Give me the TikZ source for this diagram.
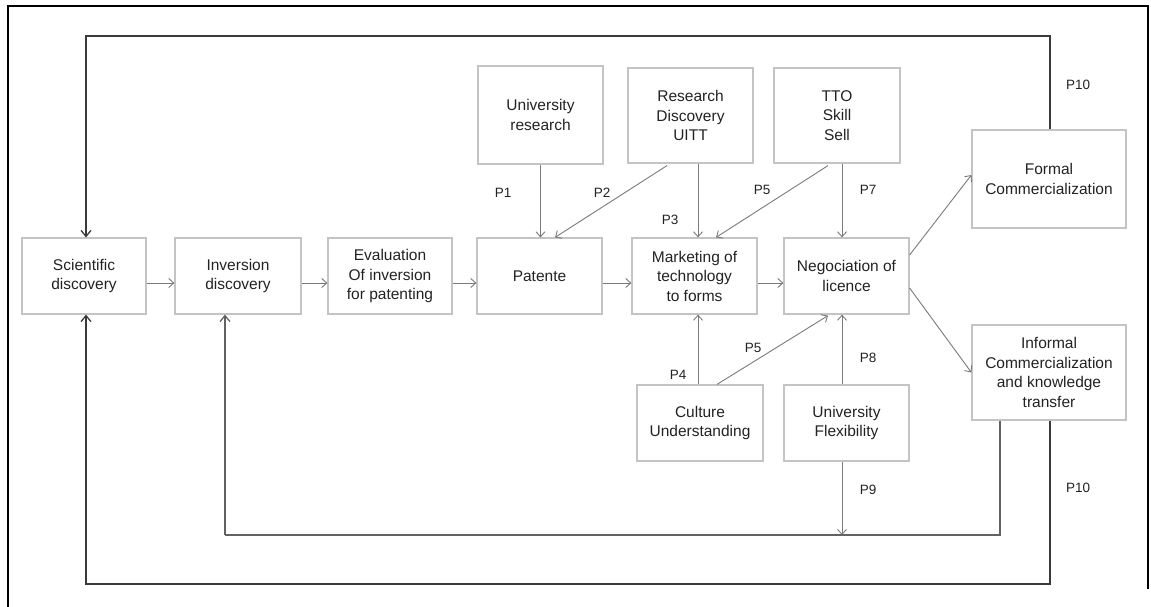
\documentclass[tikz,border=0pt]{standalone}
\usepackage{fontspec}
\setmainfont{Liberation Sans}
\usetikzlibrary{arrows.meta}
\definecolor{boxline}{HTML}{C4C4C4}
\definecolor{arrline}{HTML}{7A7A7A}
\definecolor{loopline}{HTML}{3A3A3A}
\definecolor{txt}{HTML}{222222}
\tikzset{
  box/.style={draw=boxline, line width=1.2pt, rectangle, inner sep=0pt,
    align=center, text=txt, font=\fontsize{15.5}{19.5}\selectfont},
  arr/.style={draw=arrline, line width=0.9pt, -{Straight Barb[length=5pt,width=9pt]}},
  loop/.style={draw=loopline, line width=1.3pt},
  looparr/.style={loop, -{Straight Barb[length=6pt,width=10pt]}},
  plabel/.style={text=txt, font=\fontsize{13.5}{15}\selectfont, inner sep=0pt}
}
\begin{document}
\begin{tikzpicture}[x=1pt,y=-1pt]
\useasboundingbox (0,0) rectangle (1151,606);
% frame
\draw[line width=2pt,black] (8,630) -- (8,6) -- (1148,6) -- (1148,589);

% main row
\node[box, minimum width=124pt, minimum height=76pt] (sci) at (84,276) {Scientific\\discovery};
\node[box, minimum width=126pt, minimum height=76pt] (inv) at (238,276) {Inversion\\discovery};
\node[box, minimum width=124pt, minimum height=76pt] (eval) at (390,276) {Evaluation\\Of inversion\\for patenting};
\node[box, minimum width=125pt, minimum height=76pt] (pat) at (539.5,276) {Patente};
\node[box, minimum width=125pt, minimum height=76pt] (mkt) at (694.5,276) {Marketing of\\technology\\to forms};
\node[box, minimum width=125pt, minimum height=76pt] (neg) at (846.5,276) {Negociation of\\licence};

% upper factors
\node[box, minimum width=125pt, minimum height=98pt] (ur) at (540.5,115) {University\\research};
\node[box, minimum width=125pt, minimum height=95pt] (rd) at (690.5,115.5) {Research\\Discovery\\UITT};
\node[box, minimum width=126pt, minimum height=95pt] (tto) at (837,115.5) {TTO\\Skill\\Sell};

% lower factors
\node[box, minimum width=126pt, minimum height=76pt] (cul) at (700,423) {Culture\\Understanding};
\node[box, minimum width=125pt, minimum height=76pt] (flex) at (846.5,423) {University\\Flexibility};

% outcomes
\node[box, minimum width=154pt, minimum height=98pt] (formal) at (1049,179) {Formal\\Commercialization};
\node[box, minimum width=154pt, minimum height=95pt] (inf) at (1049,372.5) {Informal\\Commercialization\\and knowledge\\transfer};

% main row flow
\coordinate (row) at (0,283);
\draw[arr] (sci.east |- row) -- (inv.west |- row);
\draw[arr] (inv.east |- row) -- (eval.west |- row);
\draw[arr] (eval.east |- row) -- (pat.west |- row);
\draw[arr] (pat.east |- row) -- (mkt.west |- row);
\draw[arr] (mkt.east |- row) -- (neg.west |- row);

% influences from above
\draw[arr] (ur.south) -- (ur.south |- pat.north);
\draw[arr] ([xshift=-23.5pt,yshift=-2pt]rd.south) -- ([xshift=15.5pt]pat.north);
\draw[arr] ([xshift=7.5pt]rd.south) -- ([xshift=3.5pt]mkt.north);
\draw[arr] ([xshift=-9pt,yshift=-2pt]tto.south) -- ([xshift=21.5pt]mkt.north);
\draw[arr] ([xshift=5pt]tto.south) -- ([xshift=-4.5pt]neg.north);

% influences from below
\draw[arr] ([xshift=-2pt]cul.north) -- ([xshift=3.5pt]mkt.south);
\draw[arr] ([xshift=17pt]cul.north) -- ([xshift=-18.5pt,yshift=-1pt]neg.south);
\draw[arr] ([xshift=-4.5pt]flex.north) -- ([xshift=-4.5pt]neg.south);

% outcomes of negotiation
\draw[arr] ([yshift=21pt]neg.east) -- ([yshift=4pt]formal.west);
\draw[arr] ([yshift=-12pt]neg.east) -- (inf.west);

% inner feedback loop to inversion discovery
\coordinate (in1) at (225,535);
\draw[loop, draw=arrline!80!black] ([xshift=-49pt]inf.south) |- (in1);
\draw[looparr, draw=arrline!80!black] (in1) -- (in1 |- inv.south);
\draw[arr] ([xshift=-4.5pt]flex.south) -- ([xshift=-4.5pt]flex.south |- in1);

% outer feedback loops to scientific discovery
\coordinate (top) at (86,36);
\coordinate (bot) at (86,584);
\draw[looparr] ([xshift=1pt]formal.north) |- (top) -- (top |- sci.north);
\draw[looparr] ([xshift=1pt]inf.south) |- (bot) -- (bot |- sci.south);

% proposition labels
\node[plabel] (p1) at (503,193) {P1};
\node[plabel] (p2) at (602,193) {P2};
\node[plabel] (p3) at (670,220) {P3};
\node[plabel] (p5a) at (762,190) {P5};
\node[plabel] (p7) at (868,190) {P7};
\node[plabel] (p10a) at (1078,85) {P10};
\node[plabel] (p4) at (678,375) {P4};
\node[plabel] (p5b) at (753,348) {P5};
\node[plabel] (p8) at (868,358) {P8};
\node[plabel] (p9) at (868,490) {P9};
\node[plabel] (p10b) at (1078,488) {P10};
\end{tikzpicture}
\end{document}
